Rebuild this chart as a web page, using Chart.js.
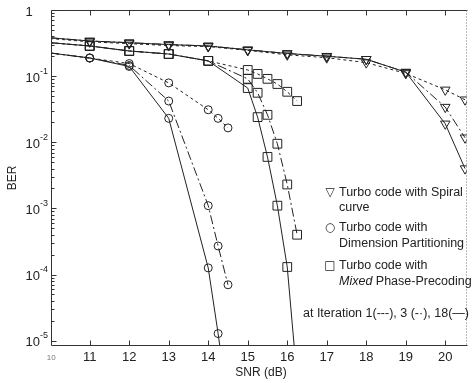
<!DOCTYPE html>
<html><head><meta charset="utf-8">
<script src="https://cdn.jsdelivr.net/npm/chart.js@4.4.1/dist/chart.umd.min.js"></script>
<style>html,body{margin:0;padding:0;background:#fff;}#wrap{width:474px;height:383px;}</style>
</head><body><div id="wrap"><canvas id="c" width="474" height="383"></canvas></div>
<script>
// ---- data ----
const xTickValues = [11, 12, 13, 14, 15, 16, 17, 18, 19, 20];
const xFirstTick = 10;
const yDecadeExponents = [0, -1, -2, -3, -4, -5];

const snrSpiral = [10, 11, 12, 13, 14, 15, 16, 17, 18, 19, 20, 20.5];
const spiralIter1 = [0.37, 0.33, 0.31, 0.29, 0.28, 0.245, 0.21, 0.19, 0.16, 0.11, 0.062, 0.044];
const spiralIter3 = [0.38, 0.34, 0.32, 0.30, 0.286, 0.25, 0.22, 0.20, 0.18, 0.115, 0.034, 0.0117];
const spiralIter18 = [0.38, 0.34, 0.32, 0.30, 0.286, 0.25, 0.22, 0.20, 0.18, 0.115, 0.019, 0.004];

const snrDimension = [10, 11, 12, 13, 14, 14.25, 14.5];
const dimIter1 = [0.224, 0.188, 0.155, 0.079, 0.031, 0.023, 0.0165];
const dimIter3 = [0.224, 0.188, 0.145, 0.042, 0.0011, 0.00027, 0.00007];
const dimIter18 = [0.224, 0.188, 0.14, 0.023, 0.000126, 0.0000128, 0.000001];

const snrMixed = [10, 11, 12, 13, 14, 15, 15.25, 15.5, 15.75, 16, 16.25];
const mixIter1 = [0.32, 0.286, 0.24, 0.216, 0.17, 0.124, 0.108, 0.091, 0.076, 0.058, 0.042];
const mixIter3 = [0.32, 0.286, 0.24, 0.216, 0.17, 0.091, 0.056, 0.026, 0.0095, 0.0023, 0.0004];
const mixIter18 = [0.32, 0.286, 0.24, 0.216, 0.17, 0.066, 0.024, 0.006, 0.0011, 0.00013, 0.0000026];

const legendLines = [
  ["\u25BD", "Turbo code with Spiral"],
  ["", "curve"],
  ["\u25CB", "Turbo code with"],
  ["", "Dimension Partitioning"],
  ["\u25A1", "Turbo code with"],
  ["", "Mixed|Phase-Precoding"]
];
const iterationNote = "at Iteration 1(---), 3 (-\u00B7), 18(\u2014)";
const xTitle = "SNR (dB)";
const yTitle = "BER";

// ---- build ----
const INK = '#222';
const dashIter = { 1: [3, 3], 3: [9, 3, 2, 3], 18: [] };
function pts(xs, ys) { return xs.map((x, i) => ({ x: x, y: ys[i] })); }
function ds(xs, ys, iter, style) {
  return {
    data: pts(xs, ys),
    borderColor: INK, borderWidth: 1, borderDash: dashIter[iter],
    pointStyle: style.shape, pointRotation: style.rot || 0,
    pointRadius: xs.map((x, i) => i === 0 ? 0 : style.r),
    pointBorderColor: INK, pointBackgroundColor: 'rgba(0,0,0,0)', pointBorderWidth: 1,
    tension: 0, fill: false
  };
}
const triS = { shape: 'triangle', rot: 180, r: 5.5 };
const cirS = { shape: 'circle', r: 4 };
const sqS = { shape: 'rect', r: 6.2 };

const datasets = [
  ds(snrSpiral, spiralIter1, 1, triS), ds(snrSpiral, spiralIter3, 3, triS), ds(snrSpiral, spiralIter18, 18, triS),
  ds(snrDimension, dimIter1, 1, cirS), ds(snrDimension, dimIter3, 3, cirS), ds(snrDimension, dimIter18, 18, cirS),
  ds(snrMixed, mixIter1, 1, sqS), ds(snrMixed, mixIter3, 3, sqS), ds(snrMixed, mixIter18, 18, sqS)
];

const FONT = '"Liberation Sans", Arial, Helvetica, sans-serif';

const framePlugin = {
  id: 'frame',
  afterDraw(chart) {
    const ctx = chart.ctx, a = chart.chartArea;
    const xs = chart.scales.x, ys = chart.scales.y;
    const L = Math.round(a.left) + 0.5, R = Math.round(a.right) + 0.5;
    const T = Math.round(a.top) + 0.5, B = Math.round(a.bottom) + 0.5;
    ctx.save();
    ctx.strokeStyle = '#333'; ctx.lineWidth = 1; ctx.setLineDash([]);
    ctx.beginPath();
    ctx.moveTo(L, T); ctx.lineTo(L, B); ctx.lineTo(R, B);
    ctx.moveTo(L, T); ctx.lineTo(R, T);
    ctx.stroke();
    // right dotted border
    ctx.strokeStyle = '#777'; ctx.setLineDash([1, 2]);
    ctx.beginPath(); ctx.moveTo(R - 1, T); ctx.lineTo(R - 1, B); ctx.stroke();
    ctx.setLineDash([]); ctx.strokeStyle = '#333';
    // x ticks (inward, top and bottom)
    ctx.beginPath();
    xTickValues.forEach(v => {
      const px = Math.round(xs.getPixelForValue(v)) + 0.5;
      ctx.moveTo(px, B); ctx.lineTo(px, B - 5);
      ctx.moveTo(px, T); ctx.lineTo(px, T + 5);
    });
    // y ticks (inward on left)
    yDecadeExponents.forEach(e => {
      for (let m = 1; m <= 9; m++) {
        const v = m * Math.pow(10, e);
        if (v < ys.min || v > ys.max) continue;
        const py = Math.round(ys.getPixelForValue(v)) + 0.5;
        const len = m === 1 ? 5 : 3;
        ctx.moveTo(L, py); ctx.lineTo(L + len, py);
      }
    });
    ctx.stroke();

    // x tick labels
    ctx.fillStyle = '#222';
    ctx.textAlign = 'center'; ctx.textBaseline = 'middle';
    ctx.font = '13px ' + FONT;
    xTickValues.forEach(v => {
      ctx.fillText(String(v), xs.getPixelForValue(v), 357);
    });
    ctx.font = '8px ' + FONT; ctx.fillStyle = '#777';
    ctx.fillText(String(xFirstTick), xs.getPixelForValue(xFirstTick) + 1, 358);

    // y tick labels
    ctx.fillStyle = '#222';
    yDecadeExponents.forEach(e => {
      const py = ys.getPixelForValue(Math.pow(10, e));
      if (e === 0) {
        ctx.font = '13px ' + FONT; ctx.textAlign = 'center';
        ctx.fillText('1', 29, py + 2);
        return;
      }
      ctx.font = '9px ' + FONT; ctx.textAlign = 'right';
      const sup = String(e);
      ctx.fillText(sup, 48, py - 5);
      const w = ctx.measureText(sup).width;
      ctx.font = '13px ' + FONT;
      ctx.fillText('10', 48 - w, py + 2);
    });

    // axis titles
    ctx.font = '12px ' + FONT; ctx.textAlign = 'center';
    ctx.fillText(xTitle, 261, 373);
    ctx.save(); ctx.translate(13, 178); ctx.rotate(-Math.PI / 2);
    ctx.fillText(yTitle, 0, 0); ctx.restore();

    // legend
    const ys0 = [193, 208, 228, 244, 266, 282];
    legendLines.forEach((ln, i) => {
      const y = ys0[i];
      if (ln[0]) {
        ctx.font = '12px "DejaVu Sans", sans-serif'; ctx.textAlign = 'center';
        ctx.fillText(ln[0], 330, y);
      }
      ctx.textAlign = 'left';
      if (ln[1].indexOf('|') >= 0) {
        const parts = ln[1].split('|');
        ctx.font = 'italic 12.5px ' + FONT;
        ctx.fillText(parts[0], 339, y);
        const w = ctx.measureText(parts[0] + ' ').width;
        ctx.font = '12.5px ' + FONT;
        ctx.fillText(parts[1], 339 + w, y);
      } else {
        ctx.font = '12.5px ' + FONT;
        ctx.fillText(ln[1], 339, y);
      }
    });
    ctx.font = '12.5px ' + FONT; ctx.textAlign = 'left';
    ctx.fillText(iterationNote, 303, 314);
    ctx.restore();
  }
};

new Chart(document.getElementById('c'), {
  type: 'line',
  data: { datasets: datasets },
  options: {
    responsive: false, animation: false, devicePixelRatio: 1,
    layout: { padding: { left: 51, right: 2, top: 10, bottom: 38 } },
    plugins: { legend: { display: false }, tooltip: { enabled: false } },
    scales: {
      x: { type: 'linear', min: 10.02, max: 20.545, display: false },
      y: { type: 'logarithmic', min: 8.6e-6, max: 1, display: false }
    }
  },
  plugins: [framePlugin]
});
</script></body></html>
